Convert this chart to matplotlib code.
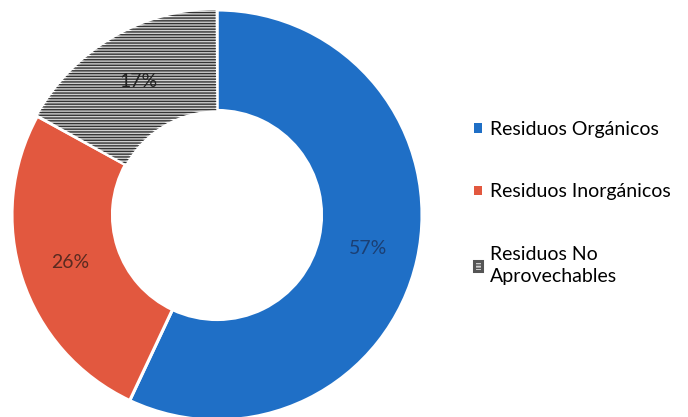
import numpy as np
import matplotlib
matplotlib.use("Agg")
from matplotlib import pyplot as plt
import matplotlib.patches as mpatches

plt.rcParams['font.family'] = ['Lato', 'DejaVu Sans']
plt.rcParams['hatch.linewidth'] = 1.0

labels = ['Residuos Orgánicos', 'Residuos Inorgánicos', 'Residuos No\nAprovechables']
values = [57, 26, 17]
colors = ['#1f6fc6', '#e2583f', '#cfcfcf']
pct_labels = ['57%', '26%', '17%']
pct_colors = ['#1b3f73', '#5a2a20', '#222222']

fig = plt.figure(figsize=(6.88, 4.17), dpi=100)
# donut centre ~ (217, 215) px, radius ~205 px
ax = fig.add_axes([12/688, -3/417, 410/688, 410/417])

width = 0.49
wedges, _ = ax.pie(values, colors=colors, startangle=90, counterclock=False,
                   radius=1, wedgeprops=dict(width=width, edgecolor='white', linewidth=2.2))
ax.set_xlim(-1, 1)
ax.set_ylim(-1, 1)
ax.set_aspect('equal')
ax.axis('off')

# hatch overlay on the gray slice
gray = wedges[2]
hatch = mpatches.Wedge(gray.center, gray.r, gray.theta1 + 0.4, gray.theta2 - 0.4, width=width,
                       facecolor='none', edgecolor='#333333', hatch='------', linewidth=0)
ax.add_patch(hatch)

r_lab = 1 - width / 2
for w, txt, c in zip(wedges, pct_labels, pct_colors):
    ang = np.deg2rad((w.theta1 + w.theta2) / 2)
    ax.text(r_lab * np.cos(ang), r_lab * np.sin(ang), txt, ha='center', va='center',
            fontsize=14, color=c)

leg = fig.legend(wedges, labels, loc='upper left', bbox_to_anchor=(466/688, 1 - 113/417),
                 frameon=False, fontsize=14, handlelength=0.4, handleheight=0.4,
                 handletextpad=0.45, labelspacing=2.35, borderaxespad=0)
for h in leg.legend_handles:
    h.set_edgecolor('none')
leg.legend_handles[2].set_hatch('-----')
leg.legend_handles[2].set_edgecolor('#555555')
leg.get_texts()[2].set_linespacing(1.35)

fig.savefig('out.png', dpi=100)
